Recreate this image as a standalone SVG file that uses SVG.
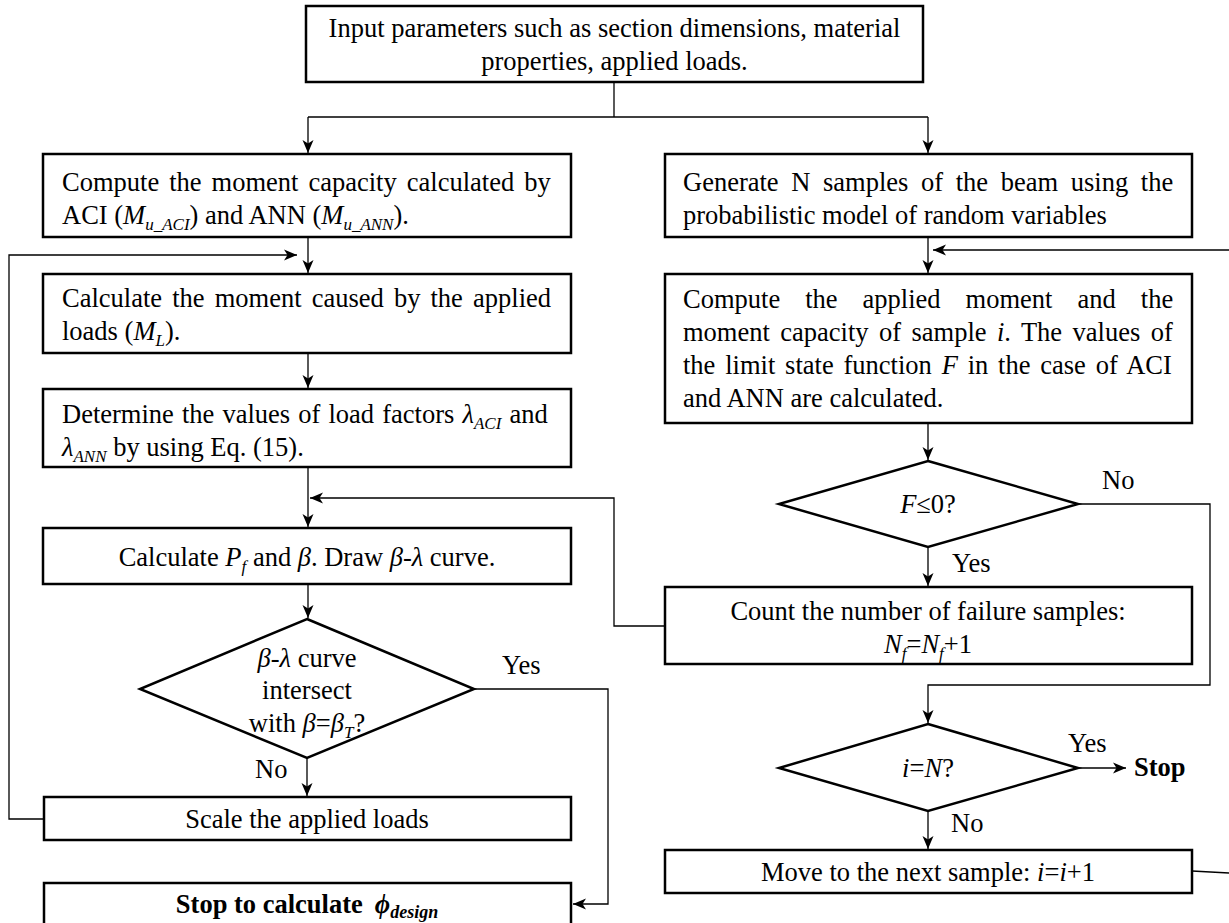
<svg xmlns="http://www.w3.org/2000/svg" width="1229" height="923" viewBox="0 0 1229 923">
<style>
.box{fill:#fff;stroke:#000;stroke-width:2.5}
.ln{fill:none;stroke:#000;stroke-width:1.3}
text{font-family:"Liberation Serif","Times New Roman","DejaVu Serif",serif;font-size:26.5px;fill:#000}
.m{text-anchor:middle}
.i{font-style:italic}
.s{font-style:italic;font-size:17px}
.b{font-weight:bold}
</style>
<defs>
<marker id="ah" markerUnits="userSpaceOnUse" markerWidth="14" markerHeight="12" viewBox="0 -6 14 12" refX="13" refY="0" orient="auto">
<path d="M0,-5.5 L13,0 L0,5.5 L3.5,0 z" fill="#000"/>
</marker>
</defs>
<rect width="1229" height="923" fill="#fff"/>
<g id="connectors">
<path class="ln" d="M614,82 V117"/>
<path class="ln" d="M308,117 H928"/>
<path class="ln" d="M308,117 V153" marker-end="url(#ah)"/>
<path class="ln" d="M928,117 V153" marker-end="url(#ah)"/>
<path class="ln" d="M308,237 V273" marker-end="url(#ah)"/>
<path class="ln" d="M44,819 H9 V255 H297" marker-end="url(#ah)"/>
<path class="ln" d="M308,353 V388" marker-end="url(#ah)"/>
<path class="ln" d="M308,467 V527" marker-end="url(#ah)"/>
<path class="ln" d="M665,626 H614 V498 H310" marker-end="url(#ah)"/>
<path class="ln" d="M308,584 V618" marker-end="url(#ah)"/>
<path class="ln" d="M307,758 V796" marker-end="url(#ah)"/>
<path class="ln" d="M474,689 H608 V904 H573" marker-end="url(#ah)"/>
<path class="ln" d="M928,237 V273" marker-end="url(#ah)"/>
<path class="ln" d="M1229,250 H933" marker-end="url(#ah)"/>
<path class="ln" d="M928,423 V460" marker-end="url(#ah)"/>
<path class="ln" d="M928,547 V586" marker-end="url(#ah)"/>
<path class="ln" d="M1078,504 H1210 V685 H928 V723" marker-end="url(#ah)"/>
<path class="ln" d="M1078,768 H1126" marker-end="url(#ah)"/>
<path class="ln" d="M928,811 V849" marker-end="url(#ah)"/>
<path class="ln" d="M1192,871 L1229,873"/>
</g>
<g id="n-input">
<rect class="box" x="306" y="6" width="617" height="76"/>
<text class="m" x="614.5" y="37">Input parameters such as section dimensions, material</text>
<text class="m" x="614.5" y="70">properties, applied loads.</text>
</g>
<g id="n-capacity">
<rect class="box" x="43" y="154" width="528" height="83"/>
<text x="62" y="191" word-spacing="3.4">Compute the moment capacity calculated by</text>
<text x="62" y="224">ACI (<tspan class="i">M</tspan><tspan class="s" dy="6">u_ACI</tspan><tspan dy="-6">) and ANN (</tspan><tspan class="i">M</tspan><tspan class="s" dy="6">u_ANN</tspan><tspan dy="-6">).</tspan></text>
</g>
<g id="n-moment">
<rect class="box" x="43" y="274" width="528" height="79"/>
<text x="62" y="307" word-spacing="3.5">Calculate the moment caused by the applied</text>
<text x="62" y="340">loads (<tspan class="i">M</tspan><tspan class="s" dy="6">L</tspan><tspan dy="-6">).</tspan></text>
</g>
<g id="n-factors">
<rect class="box" x="43" y="389" width="528" height="78"/>
<text x="62" y="423" word-spacing="1.5">Determine the values of load factors <tspan class="i">λ</tspan><tspan class="s" dy="6">ACI</tspan><tspan dy="-6"> and</tspan></text>
<text x="62" y="456"><tspan class="i">λ</tspan><tspan class="s" dy="6">ANN</tspan><tspan dy="-6"> by using Eq. (15).</tspan></text>
</g>
<g id="n-pf">
<rect class="box" x="43" y="528" width="528" height="56"/>
<text class="m" x="307" y="566">Calculate <tspan class="i">P</tspan><tspan class="s" dy="6">f</tspan><tspan dy="-6"> and </tspan><tspan class="i">β</tspan>. Draw <tspan class="i">β-λ</tspan> curve.</text>
</g>
<g id="n-intersect">
<polygon class="box" points="307,619 474,689 307,758 140,689"/>
<text class="m" x="307" y="667"><tspan class="i">β-λ</tspan> curve</text>
<text class="m" x="307" y="699">intersect</text>
<text class="m" x="307" y="732">with <tspan class="i">β</tspan>=<tspan class="i">β</tspan><tspan class="s" dy="6">T</tspan><tspan dy="-6">?</tspan></text>
<text x="502" y="674">Yes</text>
<text x="255" y="778">No</text>
</g>
<g id="n-scale">
<rect class="box" x="44" y="797" width="527" height="43"/>
<text class="m" x="307" y="828">Scale the applied loads</text>
</g>
<g id="n-stopcalc">
<rect class="box" x="44" y="883" width="527" height="50"/>
<text class="m b" x="307" y="913">Stop to calculate<tspan class="i" dx="12">ϕ</tspan><tspan class="i" font-size="18" dy="5">design</tspan></text>
</g>
<g id="n-generate">
<rect class="box" x="665" y="154" width="527" height="83"/>
<text x="683" y="191" word-spacing="6">Generate N samples of the beam using the</text>
<text x="683" y="224">probabilistic model of random variables</text>
</g>
<g id="n-compute">
<rect class="box" x="665" y="274" width="527" height="149"/>
<text x="683" y="308" word-spacing="18.4">Compute the applied moment and the</text>
<text x="683" y="341" word-spacing="3.8">moment capacity of sample <tspan class="i">i</tspan>. The values of</text>
<text x="683" y="374" word-spacing="3.2">the limit state function <tspan class="i">F</tspan> in the case of ACI</text>
<text x="683" y="407">and ANN are calculated.</text>
</g>
<g id="n-f0">
<polygon class="box" points="928,461 1078,504 928,547 779,504"/>
<text class="m" x="928" y="513"><tspan class="i">F</tspan>≤0?</text>
<text x="1102" y="489">No</text>
<text x="952" y="572">Yes</text>
</g>
<g id="n-count">
<rect class="box" x="665" y="587" width="527" height="77"/>
<text class="m" x="928" y="620">Count the number of failure samples:</text>
<text class="m" x="928" y="653"><tspan class="i">N</tspan><tspan class="s" dy="6">f</tspan><tspan dy="-6">=</tspan><tspan class="i">N</tspan><tspan class="s" dy="6">f</tspan><tspan dy="-6">+1</tspan></text>
</g>
<g id="n-iN">
<polygon class="box" points="928,724 1078,768 928,811 779,768"/>
<text class="m" x="928" y="777"><tspan class="i">i</tspan>=<tspan class="i">N</tspan>?</text>
<text x="1068" y="752">Yes</text>
<text x="951" y="832">No</text>
<text class="b" x="1134" y="776">Stop</text>
</g>
<g id="n-next">
<rect class="box" x="665" y="850" width="527" height="43"/>
<text class="m" x="928" y="881">Move to the next sample: <tspan class="i">i</tspan>=<tspan class="i">i</tspan>+1</text>
</g>
</svg>
